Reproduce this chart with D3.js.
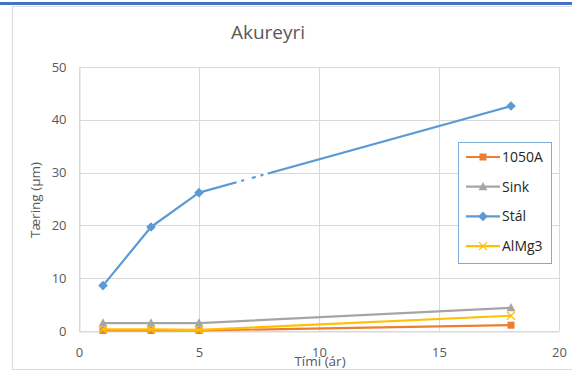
<!DOCTYPE html>
<html><head><meta charset="utf-8">
<script src="https://cdn.jsdelivr.net/npm/d3@7"></script>
<style>
html,body{margin:0;padding:0;background:#fff;}
svg{display:block;font-family:"Open Sans","Liberation Sans",sans-serif;}
</style></head>
<body>
<svg id="c" width="572" height="372"></svg>
<script>
const years = [1, 3, 5, 18];
const seriesNames = ["1050A", "Sink", "Stál", "AlMg3"];
const v1050A = [0.1, 0.1, 0.1, 1.1];
const vSink = [1.5, 1.5, 1.5, 4.4];
const vStal = [8.6, 19.7, 26.2, 42.6];
const vAlMg3 = [0.3, 0.3, 0.2, 2.9];
const xTicks = [0, 5, 10, 15, 20];
const yTicks = [0, 10, 20, 30, 40, 50];
const colors = ["#ED7D31", "#A5A5A5", "#5B9BD5", "#FFC000"];
const markers = ["square", "triangle", "diamond", "cross"];
const title = "Akureyri", xLabel = "Tími (ár)", yLabel = "Tæring (µm)";

const series = seriesNames.map((n, i) => ({
  name: n, color: colors[i], marker: markers[i],
  values: [v1050A, vSink, vStal, vAlMg3][i].map((v, j) => ({x: years[j], y: v}))
}));

const svg = d3.select("#c");
// top blue band and outer frame
svg.append("rect").attr("x", 0).attr("y", 2).attr("width", 572).attr("height", 3).attr("fill", "#4472C4");
svg.append("rect").attr("x", 12.5).attr("y", 6.5).attr("width", 580).attr("height", 363).attr("fill", "none").attr("stroke", "#d9d9d9");

const L = 79, R = 559, T = 67, B = 331;
const x = d3.scaleLinear().domain([0, 20]).range([L, R]);
const y = d3.scaleLinear().domain([0, 50]).range([B, T]);

// gridlines
svg.append("g").selectAll("line").data(yTicks).join("line")
  .attr("x1", L).attr("x2", R).attr("y1", d => Math.round(y(d)) + 0.5).attr("y2", d => Math.round(y(d)) + 0.5)
  .attr("stroke", "#d9d9d9").attr("stroke-width", 1);
svg.append("g").selectAll("line").data(xTicks).join("line")
  .attr("y1", T).attr("y2", B).attr("x1", d => Math.round(x(d)) + 0.5).attr("x2", d => Math.round(x(d)) + 0.5)
  .attr("stroke", "#d9d9d9").attr("stroke-width", 1);

// axes via d3 axis
const xAxis = svg.append("g").attr("transform", `translate(0,${Math.round(B)+0.5})`)
  .call(d3.axisBottom(x).tickValues(xTicks).tickSize(0).tickPadding(16).tickFormat(d3.format("d")));
const yAxis = svg.append("g").attr("transform", `translate(${L+0.5},0)`)
  .call(d3.axisLeft(y).tickValues(yTicks).tickSize(0).tickPadding(13).tickFormat(d3.format("d")));
[xAxis, yAxis].forEach(g => {
  g.select(".domain").attr("stroke", "#d9d9d9");
  g.selectAll("text").attr("fill", "#595959").style("font-size", "13px").style("font-family", "'Open Sans','Liberation Sans',sans-serif");
});

// title and axis labels
svg.append("text").attr("x", 268).attr("y", 39).attr("text-anchor", "middle")
  .attr("fill", "#595959").style("font-size", "19px").text(title);
svg.append("text").attr("x", 320).attr("y", 366).attr("text-anchor", "middle")
  .attr("fill", "#595959").style("font-size", "13.5px").text(xLabel);
svg.append("text").attr("transform", "translate(40,200) rotate(-90)").attr("text-anchor", "middle")
  .attr("fill", "#595959").style("font-size", "13.5px").text(yLabel);

function drawMarker(g, type, color, cx, cy, s) {
  if (type === "square") {
    g.append("rect").attr("x", cx - s/2).attr("y", cy - s/2).attr("width", s).attr("height", s).attr("fill", color);
  } else if (type === "triangle") {
    g.append("path").attr("d", `M${cx},${cy - s*0.6}L${cx + s*0.55},${cy + s*0.45}L${cx - s*0.55},${cy + s*0.45}Z`).attr("fill", color);
  } else if (type === "diamond") {
    g.append("path").attr("d", `M${cx},${cy - s*0.6}L${cx + s*0.6},${cy}L${cx},${cy + s*0.6}L${cx - s*0.6},${cy}Z`).attr("fill", color);
  } else {
    const h = s/2;
    g.append("path").attr("d", `M${cx-h},${cy-h}L${cx+h},${cy+h}M${cx-h},${cy+h}L${cx+h},${cy-h}`).attr("stroke", color).attr("stroke-width", 1.3).attr("fill", "none");
  }
}

const line = d3.line().x(d => x(d.x)).y(d => y(d.y));
series.forEach(s => {
  const g = svg.append("g");
  g.append("path").datum(s.values).attr("d", line).attr("fill", "none").attr("stroke", s.color).attr("stroke-width", 2.2).attr("stroke-linejoin", "round");
  s.values.forEach(d => drawMarker(g, s.marker, s.color, x(d.x), y(d.y), s.marker === "square" ? 7 : 8));
  if (s.name === "Stál") {
    // small white break artefact on the segment between the 3rd and 4th point
    const a = s.values[2], b = s.values[3];
    const p = t => [x(a.x + (b.x - a.x) * t), y(a.y + (b.y - a.y) * t)];
    const p0 = p(0.12), p1 = p(0.22);
    g.append("line").attr("x1", p0[0]).attr("y1", p0[1]).attr("x2", p1[0]).attr("y2", p1[1])
      .attr("stroke", "#fff").attr("stroke-width", 3).attr("stroke-dasharray", "5,3,8,4");
  }
});

// legend
const lg = svg.append("g");
lg.append("rect").attr("x", 458.5).attr("y", 142.5).attr("width", 93).attr("height", 121)
  .attr("fill", "#fff").attr("stroke", "#7FA9D9").attr("stroke-width", 1);
series.forEach((s, i) => {
  const cy = 157 + i * 29.7;
  lg.append("line").attr("x1", 466).attr("x2", 500).attr("y1", cy).attr("y2", cy).attr("stroke", s.color).attr("stroke-width", 2.2);
  drawMarker(lg, s.marker, s.color, 483, cy, s.marker === "square" ? 7 : 8);
  lg.append("text").attr("x", 502).attr("y", cy + 5).attr("fill", "#262626").style("font-size", "14px").text(s.name);
});
</script>
</body></html>
